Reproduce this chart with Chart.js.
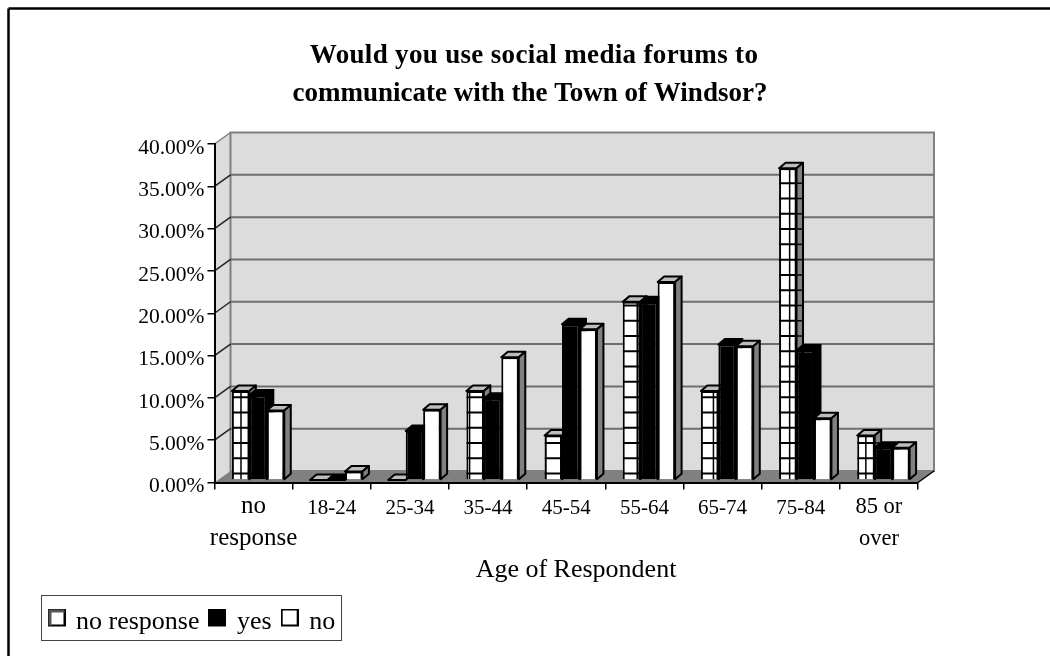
<!DOCTYPE html>
<html>
<head>
<meta charset="utf-8">
<style>
  html, body { margin: 0; padding: 0; background: #fff; }
  #wrap { width: 1050px; height: 656px; }
</style>
<script src="https://cdn.jsdelivr.net/npm/chart.js@4"></script>
</head>
<body>
<div id="wrap"><canvas id="chart"></canvas></div>
<script>
const ageGroups = [["no", "response"], "18-24", "25-34", "35-44", "45-54", "55-64", "65-74", "75-84", ["85 or", "over"]];
const noResponse = [10.53, 0, 0, 10.53, 5.26, 21.05, 10.53, 36.84, 5.26];
const yes = [10.0, 0, 5.8, 9.6, 18.4, 21.0, 16.0, 15.3, 3.8];
const no = [8.2, 1.0, 8.3, 14.5, 17.8, 23.4, 15.8, 7.3, 3.8];
const titleLines = ["Would you use social media forums to", "communicate with the Town of Windsor?"];
const xTitle = "Age of Respondent";

const serif = "'Liberation Serif', serif";
const WALL_DX = 16, WALL_DY = -11.5;    // how far the back wall sits behind the axes
const BAR_DX = 6.5, BAR_DY = -5.5;      // depth of each bar
const SHIFT_X = 4.5, SHIFT_Y = -2.5;    // bars stand a little way in from the front edge
const HATCH = 15.28;

function poly(ctx, pts, fill, stroke, lw) {
  ctx.beginPath();
  pts.forEach((p, i) => i ? ctx.lineTo(p[0], p[1]) : ctx.moveTo(p[0], p[1]));
  ctx.closePath();
  if (fill) { ctx.fillStyle = fill; ctx.fill(); }
  if (stroke) { ctx.strokeStyle = stroke; ctx.lineWidth = lw || 2; ctx.stroke(); }
}

function line(ctx, x1, y1, x2, y2, color, lw) {
  ctx.beginPath();
  ctx.moveTo(x1, y1);
  ctx.lineTo(x2, y2);
  ctx.strokeStyle = color;
  ctx.lineWidth = lw;
  ctx.stroke();
}

// the box behind the bars: frame, walls, floor and gridlines
const boxPlugin = {
  id: "box",
  beforeDraw(chart) {
    const { ctx, chartArea: a, scales: { y } } = chart;
    ctx.save();
    ctx.fillStyle = "#fff";
    ctx.fillRect(0, 0, chart.width, chart.height);

    line(ctx, 8.5, 8.5, 1050, 8.5, "#000", 2.5);
    line(ctx, 8.5, 8.5, 8.5, 656, "#000", 2.5);

    poly(ctx, [[a.left, a.top], [a.left + WALL_DX, a.top + WALL_DY], [a.left + WALL_DX, a.bottom + WALL_DY], [a.left, a.bottom]], "#dcdcdc");
    poly(ctx, [[a.left + WALL_DX, a.top + WALL_DY], [a.right + WALL_DX, a.top + WALL_DY], [a.right + WALL_DX, a.bottom + WALL_DY], [a.left + WALL_DX, a.bottom + WALL_DY]], "#dcdcdc", "#808080", 2);
    poly(ctx, [[a.left, a.bottom], [a.left + WALL_DX, a.bottom + WALL_DY], [a.right + WALL_DX, a.bottom + WALL_DY], [a.right, a.bottom]], "#808080");
    line(ctx, a.right, a.bottom, a.right + WALL_DX, a.bottom + WALL_DY, "#000", 1.5);

    y.ticks.forEach(t => {
      const py = y.getPixelForValue(t.value);
      if (t.value > 0 && t.value < 40) {
        line(ctx, a.left + WALL_DX, py + WALL_DY, a.right + WALL_DX, py + WALL_DY, "#6e6e6e", 2);
      }
      if (t.value > 0) {
        line(ctx, a.left, py, a.left + WALL_DX, py + WALL_DY, t.value === 40 ? "#808080" : "#222", 1.5);
      }
    });

    // legend frame
    ctx.fillStyle = "#fff";
    ctx.fillRect(41, 595, 300, 45);
    ctx.strokeStyle = "#444";
    ctx.lineWidth = 1;
    ctx.strokeRect(41.5, 595.5, 300, 45);

    // chart title and axis title sit off-centre from the plot
    ctx.fillStyle = "#000";
    ctx.textAlign = "center";
    ctx.textBaseline = "alphabetic";
    ctx.font = "bold 27px " + serif;
    ctx.letterSpacing = "0.33px";
    ctx.fillText(titleLines[0], 534, 63);
    ctx.letterSpacing = "0px";
    ctx.fillText(titleLines[1], 530, 101);
    ctx.font = "26px " + serif;
    ctx.fillText(xTitle, 576, 577);
    ctx.restore();
  }
};

function drawFaces(ctx, meta, index) {
  const isBlack = index === 1;
  ctx.lineJoin = "round";
  meta.data.forEach(el => {
    const l = el.x - el.width / 2, r = el.x + el.width / 2;
    poly(ctx, [[l, el.y], [l + BAR_DX, el.y + BAR_DY], [r + BAR_DX, el.y + BAR_DY], [r, el.y]], isBlack ? "#000" : "#bdbdbd", "#000", 2);
    if (el.base - el.y > 0.5) {
      poly(ctx, [[r, el.y], [r + BAR_DX, el.y + BAR_DY], [r + BAR_DX, el.base + BAR_DY], [r, el.base]], isBlack ? "#000" : "#808080", "#000", 2);
    }
  });
}

function drawHatch(ctx, meta) {
  meta.data.forEach(el => {
    if (el.base - el.y < 1) return;
    const l = el.x - el.width / 2, r = el.x + el.width / 2;
    ctx.save();
    ctx.beginPath();
    ctx.rect(l, el.y, el.width, el.base - el.y);
    ctx.clip();
    for (let k = 0; k < 30; k++) {
      const ly = el.base - 5.7 - k * HATCH;
      if (ly > el.y) line(ctx, l, ly, r, ly, "#000", 2);
    }
    for (let k = 0; k < 60; k++) {
      const lx = 241 - SHIFT_X + k * 15.24;
      if (lx > l + 1 && lx < r - 1) line(ctx, lx, el.y, lx, el.base, "#000", 1.5);
    }
    ctx.restore();
    // same rows carried across the side face
    for (let k = 0; k < 30; k++) {
      const ly = el.base - 5.7 - k * HATCH;
      if (ly > el.y) line(ctx, r, ly, r + BAR_DX, ly, "#000", 1.5);
    }
  });
}

// bars go left to right inside a group so each front covers its neighbour's side
const barsPlugin = {
  id: "bars",
  beforeDatasetsDraw(chart) {
    const { ctx } = chart;
    ctx.save();
    ctx.translate(SHIFT_X, SHIFT_Y);
    [0, 1, 2].forEach(i => {
      const meta = chart.getDatasetMeta(i);
      ctx.save();
      drawFaces(ctx, meta, i);
      ctx.restore();
      meta.controller.draw();
      if (i === 0) drawHatch(ctx, meta);
    });
    ctx.restore();
    return false;
  }
};

// legend key: the box sits at the top of a taller canvas so it lines up above the text centre
function swatch(type) {
  const c = document.createElement("canvas");
  c.width = 18; c.height = 27;
  const g = c.getContext("2d");
  g.fillStyle = type === "black" ? "#000" : "#fff";
  g.fillRect(0, 0, 18, 18);
  g.strokeStyle = "#000";
  g.lineWidth = 2;
  g.strokeRect(1, 1, 16, 16);
  if (type === "hatch") {
    g.fillStyle = "#555";
    g.fillRect(1, 1, 16, 3);
    g.fillRect(1, 1, 3, 16);
  }
  return c;
}
const swatches = [swatch("hatch"), swatch("black"), swatch("white")];

// the worded labels run wider than the plain age ranges; line heights keep every first line on one baseline
function xTickFont(c) {
  if (c.index === 0) return { family: serif, size: 25, lineHeight: 1.28 };
  if (c.index === ageGroups.length - 1) return { family: serif, size: 22.5, lineHeight: 1.42 };
  return { family: serif, size: 21, lineHeight: 1.64 };
}

new Chart(document.getElementById("chart"), {
  type: "bar",
  data: {
    labels: ageGroups,
    datasets: [
      { label: "no response", data: noResponse, backgroundColor: "#fff", borderColor: "#000", borderWidth: 2 },
      { label: "yes", data: yes, backgroundColor: "#000", borderColor: "#000", borderWidth: 2 },
      { label: "no", data: no, backgroundColor: "#fff", borderColor: "#000", borderWidth: 2 }
    ]
  },
  options: {
    responsive: true,
    maintainAspectRatio: false,
    animation: false,
    devicePixelRatio: 1,
    categoryPercentage: 0.67,
    barPercentage: 1,
    layout: { padding: { left: 38.5, right: 132, top: 144, bottom: 11 } },
    scales: {
      x: {
        afterFit(scale) { scale.height = 115; },
        grid: { drawOnChartArea: false, color: "#000", tickLength: 7, lineWidth: 1.5 },
        border: { color: "#000", width: 2 },
        ticks: { color: "#000", font: xTickFont, padding: 1.3, maxRotation: 0, autoSkip: false }
      },
      y: {
        min: 0,
        max: 40,
        afterFit(scale) { scale.width = 176; },
        grid: { drawOnChartArea: false, color: "#000", tickLength: 7, lineWidth: 1.5 },
        border: { color: "#000", width: 2 },
        ticks: { stepSize: 5, color: "#000", font: { family: serif, size: 21.5 }, padding: 3, labelOffset: 4, callback: v => v.toFixed(2) + "%" }
      }
    },
    plugins: {
      legend: {
        position: "bottom",
        align: "start",
        labels: {
          color: "#000",
          font: { family: serif, size: 26 },
          usePointStyle: true,
          boxWidth: 13,
          boxHeight: 13,
          padding: 11.5,
          generateLabels(chart) {
            return chart.data.datasets.map((d, i) => ({
              text: d.label,
              datasetIndex: i,
              pointStyle: swatches[i],
              fontColor: "#000",
              strokeStyle: "#000",
              fillStyle: "#000"
            }));
          }
        }
      },
      tooltip: { enabled: false }
    }
  },
  plugins: [boxPlugin, barsPlugin]
});
</script>
</body>
</html>
